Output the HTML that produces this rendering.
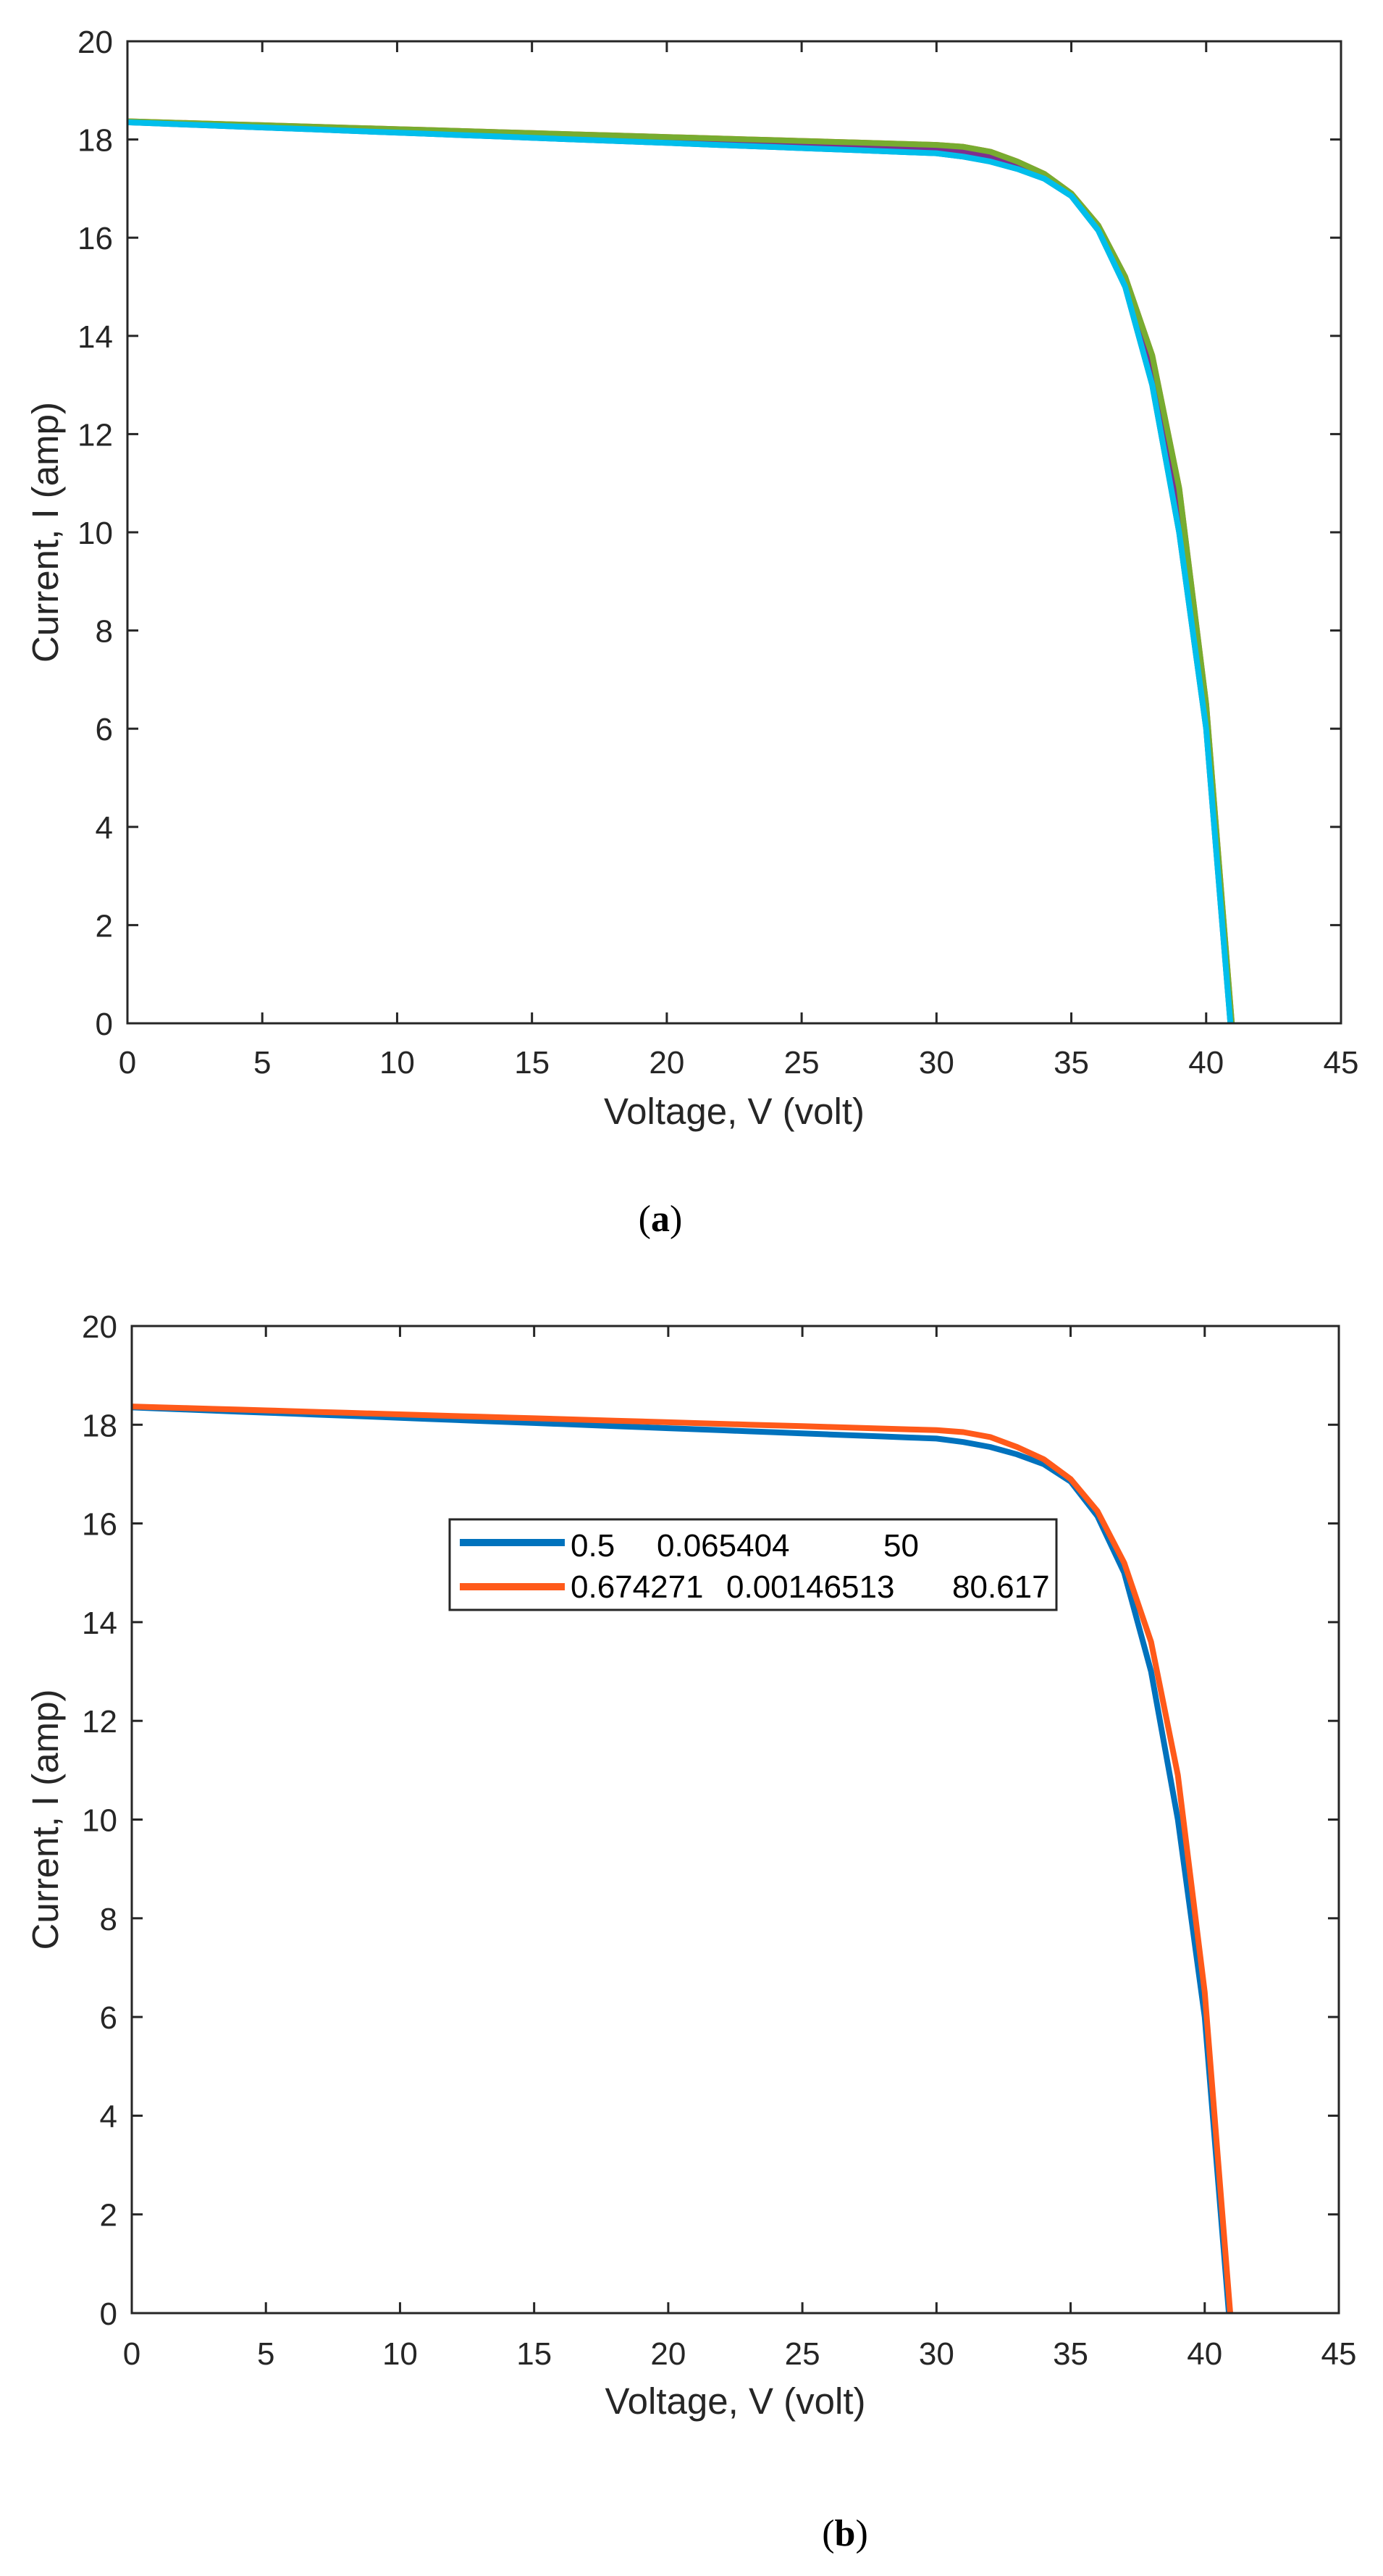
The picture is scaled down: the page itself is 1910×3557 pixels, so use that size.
<!DOCTYPE html>
<html><head><meta charset="utf-8"><style>
html,body{margin:0;padding:0;background:#fff;}
svg{display:block;}
</style></head><body>
<svg id="s" width="1910" height="3557" viewBox="0 0 1910 3557" xmlns="http://www.w3.org/2000/svg">
<rect width="1910" height="3557" fill="#fff"/>
<g id="g"></g>
<text x="912" y="1700" font-family="Liberation Serif, serif" font-size="52" text-anchor="middle" fill="#000">(<tspan font-weight="bold">a</tspan>)</text>
<text x="1167" y="3515" font-family="Liberation Serif, serif" font-size="52" text-anchor="middle" fill="#000">(<tspan font-weight="bold">b</tspan>)</text>
</svg>
<script>
const NS="http://www.w3.org/2000/svg";
const g=document.getElementById('g');
function el(t,a,txt){const e=document.createElementNS(NS,t);for(const k in a)e.setAttribute(k,a[k]);if(txt!==undefined)e.textContent=txt;g.appendChild(e);return e;}
// data
const lowV=[31,32,33,34,35,36,37,38,39,40];
const A={i0:18.35,s:0.021,pts:[17.65,17.55,17.4,17.2,16.85,16.15,15.0,13.0,10.0,6.0],voc:40.9};
const B={i0:18.37,s:0.016,pts:[17.85,17.75,17.55,17.3,16.9,16.25,15.2,13.6,10.9,6.5],voc:40.95};
function curve(t){
  const p=[];
  for(let v=0;v<=30;v++){p.push([v,(1-t)*(A.i0-A.s*v)+t*(B.i0-B.s*v)]);}
  for(let i=0;i<lowV.length;i++)p.push([lowV[i],(1-t)*A.pts[i]+t*B.pts[i]]);
  p.push([(1-t)*A.voc+t*B.voc,0]);
  return p;
}
function plot(L,T,R,Bt,series,ticksY,labY){
  const sx=v=>L+(R-L)*v/45, sy=i=>Bt-(Bt-T)*i/20;
  const col='#262626';
  // curves
  for(const s of series){
    const pts=curve(s.t).map(p=>sx(p[0]).toFixed(1)+','+sy(p[1]).toFixed(1)).join(' ');
    el('polyline',{points:pts,fill:'none',stroke:s.c,'stroke-width':8,'stroke-linejoin':'round'});
  }
  // box
  el('rect',{x:L,y:T,width:R-L,height:Bt-T,fill:'none',stroke:col,'stroke-width':3});
  for(let v=0;v<=45;v+=5){
    const x=sx(v);
    el('line',{x1:x,y1:Bt,x2:x,y2:Bt-15,stroke:col,'stroke-width':3});
    el('line',{x1:x,y1:T,x2:x,y2:T+15,stroke:col,'stroke-width':3});
    el('text',{x:x,y:ticksY,'font-family':'Liberation Sans, sans-serif','font-size':44,'text-anchor':'middle',fill:col},String(v));
  }
  for(let i=0;i<=20;i+=2){
    const y=sy(i);
    el('line',{x1:L,y1:y,x2:L+15,y2:y,stroke:col,'stroke-width':3});
    el('line',{x1:R,y1:y,x2:R-15,y2:y,stroke:col,'stroke-width':3});
    el('text',{x:L-20,y:y+16,'font-family':'Liberation Sans, sans-serif','font-size':44,'text-anchor':'end',fill:col},String(i));
  }
  el('text',{x:(L+R)/2,y:labY,'font-family':'Liberation Sans, sans-serif','font-size':51,'text-anchor':'middle',fill:col},'Voltage, V (volt)');
  const cy=(T+Bt)/2;
  el('text',{x:80,y:cy,transform:'rotate(-90 80 '+cy+')','font-family':'Liberation Sans, sans-serif','font-size':51,'text-anchor':'middle',fill:col},'Current, I (amp)');
}
plot(176,57,1852,1413,[
  {t:0,c:'#0072BD'},{t:1,c:'#FF5A1A'},{t:0.85,c:'#EDB120'},{t:0.5,c:'#7E2F8E'},{t:1,c:'#77AC30'},{t:0,c:'#00BEEB'}
],1482,1552);
plot(182,1831,1849,3194,[{t:0,c:'#0072BD'},{t:1,c:'#FF5A1A'}],3265,3333);
// legend
el('rect',{x:621,y:2098,width:838,height:125,fill:'#fff',stroke:'#262626','stroke-width':3});
el('line',{x1:635,y1:2130,x2:780,y2:2130,stroke:'#0072BD','stroke-width':10});
el('line',{x1:635,y1:2191,x2:780,y2:2191,stroke:'#FF5A1A','stroke-width':10});
const lf={'font-family':'Liberation Sans, sans-serif','font-size':44,fill:'#000'};
function lt(x,y,t){el('text',Object.assign({x:x,y:y},lf),t);}
lt(788,2149,'0.5');lt(907,2149,'0.065404');lt(1220,2149,'50');
lt(788,2206,'0.674271');lt(1003,2206,'0.00146513');lt(1315,2206,'80.617');
</script>
</body></html>
